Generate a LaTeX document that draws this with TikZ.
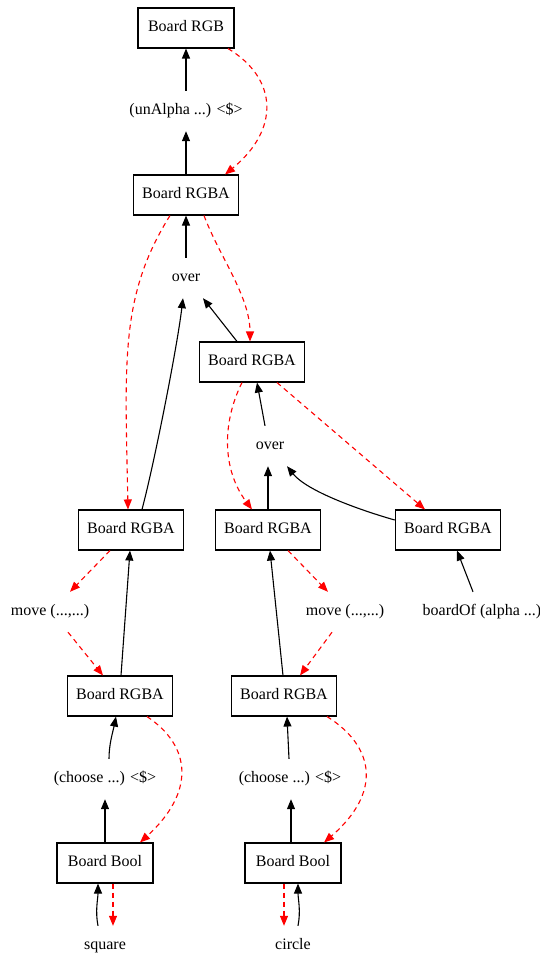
\documentclass[tikz,border=0pt]{standalone}
\usepackage{fontspec}
\setmainfont{Liberation Serif}
\usetikzlibrary{arrows.meta}

\newlength{\du}
\setlength{\du}{1pt}
\definecolor{dialinecolor}{rgb}{0.000000, 0.000000, 0.000000}
\definecolor{dialinered}{rgb}{1.000000, 0.000000, 0.000000}

\tikzset{
  board/.style={draw=dialinecolor, line width=1.1\du, rectangle, minimum width=96\du,
    minimum height=40\du, inner xsep=9\du, text height=11\du, text depth=4\du,
    font=\fontsize{16}{19}\selectfont},
  fun/.style={rectangle, minimum height=40\du, inner xsep=2\du, text height=11\du,
    text depth=4\du, font=\fontsize{16}{19}\selectfont},
  flow/.style={draw=dialinecolor, line width=1.1\du, -{Triangle[length=10pt,width=8pt]}},
  state/.style={draw=dialinered, line width=1.1\du, dash pattern=on 5\du off 4\du,
    -{Triangle[length=10pt,width=8pt,fill=dialinered,sharp]}}
}

\begin{document}
\begin{tikzpicture}
\useasboundingbox (0\du,0\du) rectangle (540\du,-958\du);
% boards
\node[board] (rgb) at (186\du,-28\du) {Board RGB};
\node[board] (rgbaA) at (186\du,-195\du) {Board RGBA};
\node[board] (rgbaB) at (252\du,-362\du) {Board RGBA};
\node[board] (rgbaC) at (131\du,-530\du) {Board RGBA};
\node[board] (rgbaD) at (268\du,-530\du) {Board RGBA};
\node[board] (rgbaE) at (448\du,-530\du) {Board RGBA};
\node[board] (rgbaF) at (120\du,-696\du) {Board RGBA};
\node[board] (rgbaG) at (284\du,-696\du) {Board RGBA};
\node[board] (boolF) at (105\du,-863\du) {Board Bool};
\node[board] (boolG) at (293\du,-863\du) {Board Bool};
% functions
\node[fun] (unalpha) at (186\du,-111\du) {(unAlpha ...) <\$>};
\node[fun] (overA) at (186\du,-278\du) {over};
\node[fun] (overB) at (270\du,-446\du) {over};
\node[fun] (moveC) at (50\du,-612\du) {move (...,...)};
\node[fun] (moveD) at (345\du,-612\du) {move (...,...)};
\node[fun] (boardof) at (482\du,-612\du) {boardOf (alpha ...)};
\node[fun] (chooseF) at (105\du,-779\du) {(choose ...) <\$>};
\node[fun] (chooseG) at (290\du,-779\du) {(choose ...) <\$>};
\node[fun] (square) at (105\du,-946\du) {square};
\node[fun] (circle) at (293\du,-946\du) {circle};

% data flow
\draw[flow] (unalpha.north) -- (rgb.south);
\draw[flow] (rgbaA.north) -- (unalpha.south);
\draw[flow] (overA.north) -- (rgbaA.south);
\draw[flow] ([xshift=-15\du]rgbaB.north) -- ([xshift=17\du]overA.south);
\draw[flow] ([xshift=11\du]rgbaC.north) .. controls +(12\du,45\du) and +(-6\du,-50\du) .. ([xshift=-3\du]overA.south);
\draw[flow] ([xshift=-5\du]overB.north) -- ([xshift=5\du]rgbaB.south);
\draw[flow] (rgbaD.north) -- ([xshift=-2\du]overB.south);
\draw[flow] ([yshift=10\du]rgbaE.west) .. controls +(-35\du,10\du) and +(20\du,-25\du) .. ([xshift=17\du]overB.south);
\draw[flow] ([xshift=-9\du]boardof.north) -- ([xshift=9\du]rgbaE.south);
\draw[flow] ([xshift=1\du]rgbaF.north) -- ([xshift=-1\du]rgbaC.south);
\draw[flow] ([xshift=-1\du]rgbaG.north) -- ([xshift=2\du]rgbaD.south);
\draw[flow] ([xshift=4\du]chooseF.north) .. controls +(0\du,15\du) and +(-3\du,-15\du) .. ([xshift=-4\du]rgbaF.south);
\draw[flow] (boolF.north) -- (chooseF.south);
\draw[flow] ([xshift=-7\du]square.north) .. controls +(-3\du,15\du) and +(0\du,-15\du) .. ([xshift=-7\du]boolF.south);
\draw[flow] ([xshift=-1\du]chooseG.north) -- ([xshift=3\du]rgbaG.south);
\draw[flow] ([xshift=-2\du]boolG.north) -- ([xshift=1\du]chooseG.south);
\draw[flow] ([xshift=5\du]circle.north) .. controls +(3\du,15\du) and +(0\du,-15\du) .. ([xshift=5\du]boolG.south);

% state passing
\draw[state] ([xshift=42\du]rgb.south) .. controls +(50\du,-30\du) and +(55\du,45\du) .. ([xshift=39\du]rgbaA.north);
\draw[state] ([xshift=18\du]rgbaA.south) .. controls +(15\du,-40\du) and +(0\du,45\du) .. ([xshift=-2\du]rgbaB.north);
\draw[state] ([xshift=-16\du]rgbaA.south) .. controls +(-50\du,-80\du) and +(-3\du,150\du) .. ([xshift=-3\du]rgbaC.north);
\draw[state] ([xshift=-10\du]rgbaB.south) .. controls +(-20\du,-40\du) and +(-30\du,40\du) .. ([xshift=-16\du]rgbaD.north);
\draw[state] ([xshift=25\du]rgbaB.south) -- ([xshift=-23\du]rgbaE.north);
\draw[state] ([xshift=-21\du]rgbaC.south) -- ([xshift=20\du]moveC.north);
\draw[state] ([xshift=18\du]moveC.south) -- ([xshift=-17\du]rgbaF.north);
\draw[state] ([xshift=20\du]rgbaD.south) -- ([xshift=-17\du]moveD.north);
\draw[state] ([xshift=-13\du]moveD.south) -- ([xshift=16\du]rgbaG.north);
\draw[state] ([xshift=27\du]rgbaF.south) .. controls +(45\du,-30\du) and +(55\du,50\du) .. ([xshift=35\du]boolF.north);
\draw[state] ([xshift=43\du]rgbaG.south) .. controls +(48\du,-30\du) and +(58\du,50\du) .. ([xshift=31\du]boolG.north);
\draw[state] ([xshift=8\du]boolF.south) -- ([xshift=8\du]square.north);
\draw[state] ([xshift=-9\du]boolG.south) -- ([xshift=-9\du]circle.north);
\end{tikzpicture}
\end{document}
